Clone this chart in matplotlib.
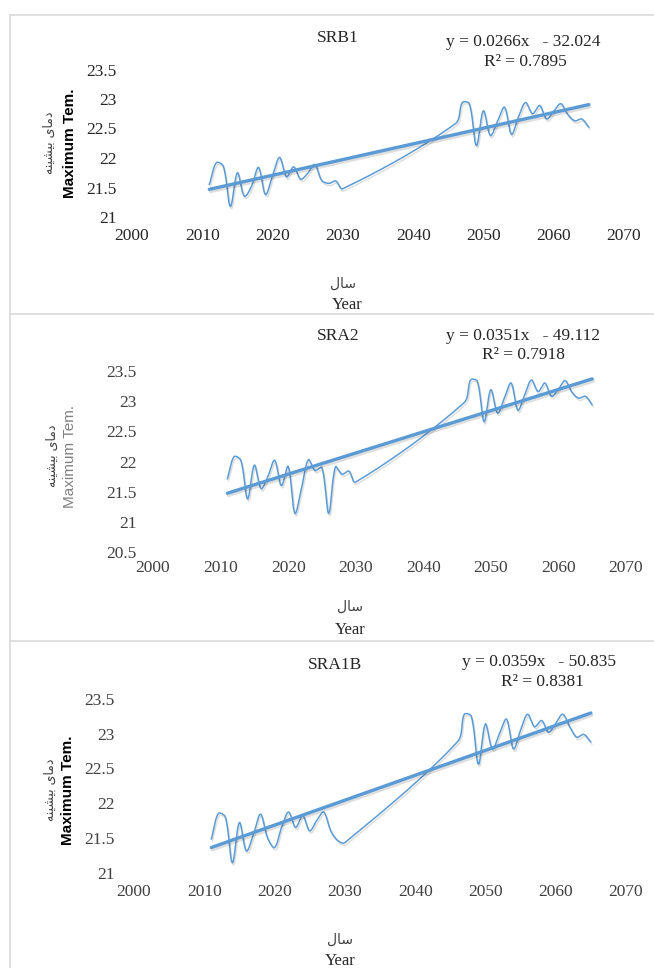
import numpy as np
import matplotlib
matplotlib.use("Agg")
import matplotlib.pyplot as plt
import matplotlib.patheffects as pe
from matplotlib.lines import Line2D

# ---------------- data ----------------
years = list(range(2011, 2031)) + list(range(2046, 2066))

srb1 = [21.55, 21.92, 21.86, 21.18, 21.75, 21.35, 21.52, 21.84, 21.38, 21.70,
        22.01, 21.68, 21.85, 21.64, 21.74, 21.89, 21.62, 21.57, 21.61, 21.48,
        22.58, 22.94, 22.92, 22.21, 22.80, 22.38, 22.62, 22.86, 22.40, 22.70,
        22.94, 22.75, 22.89, 22.66, 22.79, 22.92, 22.74, 22.63, 22.66, 22.52]

sra2 = [21.71, 22.08, 22.02, 21.38, 21.94, 21.55, 21.75, 22.02, 21.60, 21.92,
        21.14, 21.57, 22.03, 21.85, 21.90, 21.14, 21.91, 21.79, 21.84, 21.66,
        22.97, 23.35, 23.33, 22.66, 23.19, 22.80, 23.05, 23.30, 22.85, 23.10,
        23.35, 23.16, 23.30, 23.08, 23.20, 23.34, 23.15, 23.05, 23.08, 22.94]

sra1b = [21.48, 21.85, 21.80, 21.14, 21.72, 21.31, 21.55, 21.84, 21.50, 21.36,
         21.65, 21.87, 21.65, 21.82, 21.60, 21.75, 21.87, 21.60, 21.46, 21.43,
         22.88, 23.28, 23.25, 22.56, 23.14, 22.78, 23.00, 23.21, 22.78, 23.05,
         23.28, 23.10, 23.19, 23.02, 23.15, 23.28, 23.10, 22.95, 22.99, 22.88]

titles = ["SRB1", "SRA2", "SRA1B"]
slopes = [0.0266, 0.0351, 0.0359]
intercepts = [-32.024, -49.112, -50.835]
r_squared = [0.7895, 0.7918, 0.8381]
xticks = [2000, 2010, 2020, 2030, 2040, 2050, 2060, 2070]
yticks_p1 = [21, 21.5, 22, 22.5, 23, 23.5]
yticks_p2 = [20.5, 21, 21.5, 22, 22.5, 23, 23.5]
yticks_p3 = [21, 21.5, 22, 22.5, 23, 23.5]
ylabel_fa = "دمای بیشینه"
ylabel_en = "Maximum Tem."
xlabel_fa = "سال"
xlabel_en = "Year"

# ---------------- helpers ----------------
W, H = 654, 968
BLUE = "#5B9BD5"

# Arabic-script contextual shaping for the few letters used (iso, fin, ini, med)
FORMS = {
    "ا": ("\uFE8D", "\uFE8E", None, None),
    "د": ("\uFEA9", "\uFEAA", None, None),
    "ب": ("\uFE8F", "\uFE90", "\uFE91", "\uFE92"),
    "س": ("\uFEB1", "\uFEB2", "\uFEB3", "\uFEB4"),
    "ش": ("\uFEB5", "\uFEB6", "\uFEB7", "\uFEB8"),
    "ل": ("\uFEDD", "\uFEDE", "\uFEDF", "\uFEE0"),
    "م": ("\uFEE1", "\uFEE2", "\uFEE3", "\uFEE4"),
    "ن": ("\uFEE5", "\uFEE6", "\uFEE7", "\uFEE8"),
    "ه": ("\uFEE9", "\uFEEA", "\uFEEB", "\uFEEC"),
    "ی": ("\uFBFC", "\uFBFD", "\uFBFE", "\uFBFF"),
}


def shape_rtl(s):
    out = []
    n = len(s)
    for i, ch in enumerate(s):
        if ch not in FORMS:
            out.append(ch)
            continue
        prev = s[i - 1] if i > 0 else None
        nxt = s[i + 1] if i + 1 < n else None
        join_prev = prev in FORMS and FORMS[prev][2] is not None
        join_next = nxt in FORMS and FORMS[ch][2] is not None
        iso, fin, ini, med = FORMS[ch]
        if join_prev and join_next:
            out.append(med)
        elif join_prev:
            out.append(fin)
        elif join_next:
            out.append(ini)
        else:
            out.append(iso)
    return "".join(out)[::-1]


def smooth(x, y, sx, sy, n=30):
    """Excel-like smoothed line (cubic Bezier through every point)."""
    P = np.column_stack([np.asarray(x, float), np.asarray(y, float)])
    S = np.array([sx, sy])
    xs, ys = [], []
    m = len(P)
    for i in range(m - 1):
        p0 = P[i - 1] if i > 0 else P[i]
        p1, p2 = P[i], P[i + 1]
        p3 = P[i + 2] if i + 2 < m else P[i + 1]
        d01 = np.linalg.norm((p1 - p0) * S)
        d12 = np.linalg.norm((p2 - p1) * S)
        d23 = np.linalg.norm((p3 - p2) * S)
        f1 = d12 / (d01 + d12) if (d01 + d12) > 0 else 0.5
        f2 = d12 / (d12 + d23) if (d12 + d23) > 0 else 0.5
        c1 = p1 + (p2 - p0) * f1 / 3.0
        c2 = p2 - (p3 - p1) * f2 / 3.0
        t = np.linspace(0, 1, n, endpoint=(i == m - 2))[:, None]
        b = ((1 - t) ** 3) * p1 + 3 * ((1 - t) ** 2) * t * c1 + 3 * (1 - t) * t ** 2 * c2 + t ** 3 * p2
        xs.append(b[:, 0])
        ys.append(b[:, 1])
    return np.concatenate(xs), np.concatenate(ys)


def fx(px):
    return px / W


def fy(py):
    return 1 - py / H


panels = [
    dict(data=srb1, yt=yticks_p1, ylim=(21, 23.5), box=(132, 69.5, 624, 217),
         title=(338, 38), eq=(523, 42), r2=(525, 62),
         ylab_en=(70, 143), ylab_fa=(49, 143), xlab_fa=(343, 284), xlab_en=(347, 305),
         en_bold=True, en_color="black", tick_color="#262626", xpad=8.0, ypad=11.0),
    dict(data=sra2, yt=yticks_p2, ylim=(20.5, 23.5), box=(153, 371, 626, 552),
         title=(338, 336), eq=(523, 336), r2=(523, 355),
         ylab_en=(70, 456), ylab_fa=(52, 456), xlab_fa=(350, 607), xlab_en=(350, 630),
         en_bold=False, en_color="#808080", tick_color="#404040", xpad=6.0, ypad=12.0),
    dict(data=sra1b, yt=yticks_p3, ylim=(21, 23.5), box=(134, 699, 626, 872.5),
         title=(335, 665), eq=(539, 662), r2=(542, 682),
         ylab_en=(68, 790), ylab_fa=(50, 790), xlab_fa=(340, 940), xlab_en=(340, 961),
         en_bold=True, en_color="black", tick_color="#404040", xpad=8.0, ypad=14.0),
]

fig = plt.figure(figsize=(W / 100, H / 100), dpi=100)
fig.patch.set_facecolor("white")

# chart-area borders
border = "#d9d9d9"
for seg in [((10, 654), (15, 15)), ((10, 10), (15, 968)),
            ((10, 654), (314, 314)), ((10, 654), (641, 641))]:
    fig.add_artist(Line2D([fx(seg[0][0]), fx(seg[0][1])], [fy(seg[1][0]), fy(seg[1][1])],
                          color=border, lw=1.2, transform=fig.transFigure))

serif = "Liberation Serif"
shadow = [pe.SimpleLineShadow(offset=(0.8, -1.6), shadow_color="black", alpha=0.13), pe.Normal()]

for k, p in enumerate(panels):
    l, t, r, b = p["box"]
    ax = fig.add_axes([fx(l), fy(b), (r - l) / W, (b - t) / H])
    ax.set_xlim(2000, 2070)
    ax.set_ylim(*p["ylim"])
    for s in ax.spines.values():
        s.set_visible(False)
    ax.set_xticks(xticks)
    ax.set_yticks(p["yt"])
    ax.set_yticklabels([f"{v:g}" for v in p["yt"]])
    ax.tick_params(length=0, labelsize=12.5, labelcolor=p["tick_color"])
    ax.tick_params(axis="x", pad=p["xpad"])
    ax.tick_params(axis="y", pad=p["ypad"])
    for lab in ax.get_xticklabels() + ax.get_yticklabels():
        lab.set_fontfamily(serif)

    sx = (r - l) / 70.0
    sy = (b - t) / (p["ylim"][1] - p["ylim"][0])
    xs, ys = smooth(years, p["data"], sx, sy)
    ax.plot(xs, ys, color=BLUE, lw=1.1, solid_capstyle="round", path_effects=shadow)

    tx = np.array([years[0], years[-1]], float)
    ax.plot(tx, slopes[k] * tx + intercepts[k], color=BLUE, lw=2.4,
            solid_capstyle="round", path_effects=shadow)

    fig.text(fx(p["title"][0]), fy(p["title"][1]), titles[k], ha="center", va="center",
             fontsize=12.5, family=serif, color="#262626")
    fig.text(fx(p["eq"][0]), fy(p["eq"][1]),
             f"y = {slopes[k]:.4f}x   - {abs(intercepts[k]):.3f}",
             ha="center", va="center", fontsize=12.5, family=serif, color="#262626")
    fig.text(fx(p["r2"][0]), fy(p["r2"][1]), f"R² = {r_squared[k]:.4f}",
             ha="center", va="center", fontsize=12.5, family=serif, color="#262626")

    fig.text(fx(p["ylab_en"][0]), fy(p["ylab_en"][1]), ylabel_en, rotation=90,
             ha="center", va="center", fontsize=11, family="Liberation Sans",
             fontweight="bold" if p["en_bold"] else "normal", color=p["en_color"])
    fig.text(fx(p["ylab_fa"][0]), fy(p["ylab_fa"][1]), shape_rtl(ylabel_fa), rotation=90,
             ha="center", va="center", fontsize=9, family="DejaVu Sans", color="#404040")
    fig.text(fx(p["xlab_fa"][0]), fy(p["xlab_fa"][1]), shape_rtl(xlabel_fa),
             ha="center", va="center", fontsize=10, family="DejaVu Sans", color="#404040")
    fig.text(fx(p["xlab_en"][0]), fy(p["xlab_en"][1]), xlabel_en,
             ha="center", va="center", fontsize=12, family=serif, color="#262626")

fig.savefig("out.png", dpi=100, facecolor="white")
